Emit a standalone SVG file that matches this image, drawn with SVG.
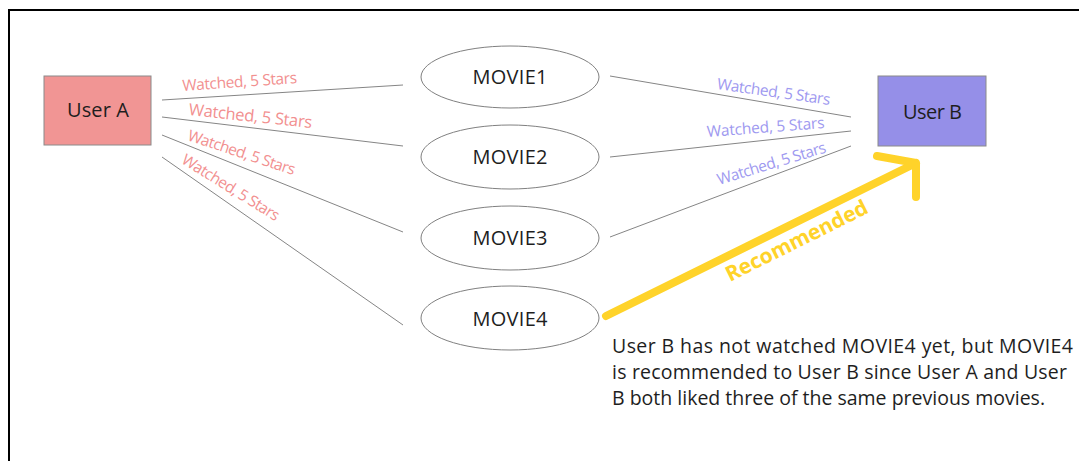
<svg xmlns="http://www.w3.org/2000/svg" width="1079" height="461" viewBox="0 0 1079 461">
<style>
.frame{fill:none;stroke:#000;stroke-width:2}
.edge{stroke:#858585;stroke-width:1;fill:none}
.movie{fill:#fff;stroke:#808080;stroke-width:1}
.t{font-family:"Open Sans","Noto Sans","Liberation Sans",sans-serif;fill:#1e1e1e}
.mv{font-size:20px;text-anchor:middle}
.usr{font-size:20px;text-anchor:middle}
.lr{font-family:"Open Sans","Noto Sans","Liberation Sans",sans-serif;font-size:15.5px;fill:#F29090;text-anchor:middle}
.lb{font-family:"Open Sans","Noto Sans","Liberation Sans",sans-serif;font-size:15.5px;fill:#9E99F0;text-anchor:middle}
.rec{stroke:#FFD32A;stroke-width:8;fill:none;stroke-linecap:round;stroke-linejoin:round}
.note{font-size:19.5px}
</style>
<path class="frame" d="M9,461 V10 H1079"/>
<g id="connectors">
<line class="edge" x1="162" y1="100" x2="403" y2="85"/>
<line class="edge" x1="162" y1="117" x2="403" y2="146"/>
<line class="edge" x1="162" y1="135" x2="403" y2="232"/>
<line class="edge" x1="162" y1="157" x2="403" y2="325"/>
<line class="edge" x1="610" y1="76" x2="851" y2="117"/>
<line class="edge" x1="610" y1="157" x2="851" y2="131"/>
<line class="edge" x1="610" y1="237" x2="851" y2="146"/>
<text class="lr" transform="translate(240,87) rotate(-4)" textLength="115">Watched, 5 Stars</text>
<text class="lr" transform="translate(250,121.5) rotate(6)" textLength="124" style="font-size:16.5px">Watched, 5 Stars</text>
<text class="lr" transform="translate(240,157.5) rotate(18.3)" textLength="112">Watched, 5 Stars</text>
<text class="lr" transform="translate(228,192) rotate(31.8)" textLength="112">Watched, 5 Stars</text>
<text class="lb" transform="translate(773,97) rotate(8)" textLength="114">Watched, 5 Stars</text>
<text class="lb" transform="translate(766,132.5) rotate(-4.4)" textLength="118">Watched, 5 Stars</text>
<text class="lb" transform="translate(773,168.5) rotate(-17)" textLength="113">Watched, 5 Stars</text>
<g id="recommend">
<path class="rec" d="M606,316 L916,163 M877,156 L916,163 L916,197"/>
<text class="t" transform="translate(730,282) rotate(-26.5)" textLength="156" style="font-size:21px;font-weight:bold;fill:#FFD32A">Recommended</text>
</g>
</g>
<g id="userA">
<rect x="44" y="76" width="107" height="69" fill="#F19594" stroke="#8a8a8a" stroke-width="1"/>
<text class="t usr" x="98" y="117" textLength="62">User A</text>
</g>
<g id="userB">
<rect x="878" y="76" width="108" height="70" fill="#958FE8" stroke="#8a8a8a" stroke-width="1"/>
<text class="t usr" x="932.5" y="119" textLength="59">User B</text>
</g>
<g id="movie1">
<ellipse class="movie" cx="510" cy="77" rx="89" ry="31"/>
<text class="t mv" x="510" y="84" textLength="75">MOVIE1</text>
</g>
<g id="movie2">
<ellipse class="movie" cx="510" cy="157" rx="89" ry="32"/>
<text class="t mv" x="510" y="164" textLength="75">MOVIE2</text>
</g>
<g id="movie3">
<ellipse class="movie" cx="510" cy="238" rx="89" ry="32"/>
<text class="t mv" x="510" y="245" textLength="75">MOVIE3</text>
</g>
<g id="movie4">
<ellipse class="movie" cx="510" cy="318" rx="89" ry="32"/>
<text class="t mv" x="510" y="326" textLength="75">MOVIE4</text>
</g>
<g id="note">
<text class="t note" x="612" y="353" textLength="461">User B has not watched MOVIE4 yet, but MOVIE4</text>
<text class="t note" x="612" y="379" textLength="455">is recommended to User B since User A and User</text>
<text class="t note" x="612" y="405" textLength="433">B both liked three of the same previous movies.</text>
</g>
</svg>
